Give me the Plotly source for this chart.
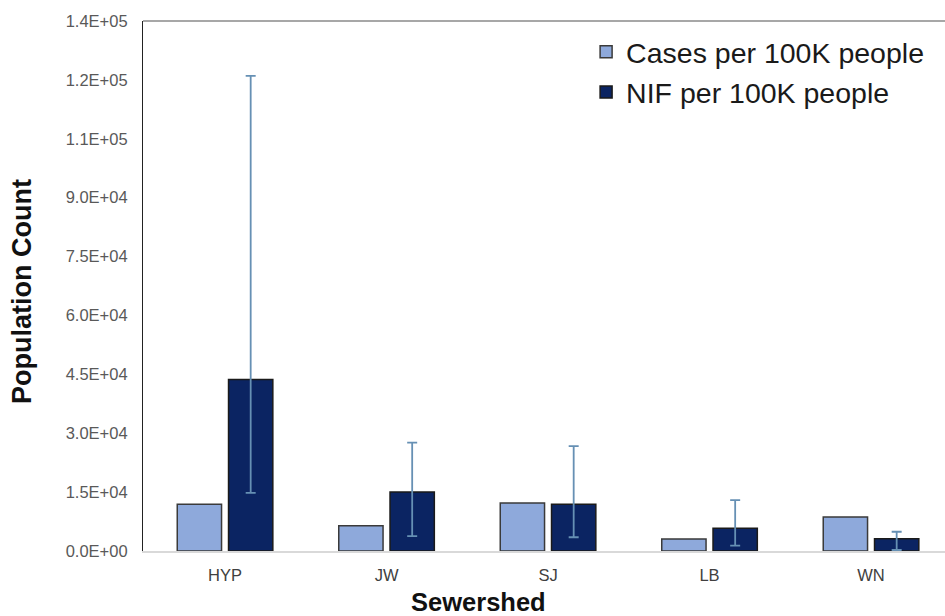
import plotly.graph_objects as go

categories = ["HYP", "JW", "SJ", "LB", "WN"]
cases_per_100k = [11900, 6400, 12200, 3050, 8650]
nif_per_100k = [43700, 15000, 11900, 5800, 3150]
nif_err_plus = [77300, 12600, 14800, 7150, 1750]
nif_err_minus = [28900, 11200, 8400, 4450, 2900]

tick_vals = [0, 15000, 30000, 45000, 60000, 75000, 90000, 105000, 120000, 135000]
tick_text = ["0.0E+00", "1.5E+04", "3.0E+04", "4.5E+04", "6.0E+04",
             "7.5E+04", "9.0E+04", "1.1E+05", "1.2E+05", "1.4E+05"]

FONT = "Liberation Sans, Arial, sans-serif"

fig = go.Figure()
fig.add_trace(go.Bar(
    name="Cases per 100K people", x=categories, y=cases_per_100k,
    marker=dict(color="#8EA9DB", line=dict(color="#3a3a3a", width=1.5)),
))
fig.add_trace(go.Bar(
    name="NIF per 100K people", x=categories, y=nif_per_100k,
    marker=dict(color="#0B2462", line=dict(color="#1a1a1a", width=1.5)),
    error_y=dict(type="data", symmetric=False, array=nif_err_plus,
                 arrayminus=nif_err_minus, color="#6690B4", thickness=1.8, width=5),
))

fig.update_layout(
    width=945, height=616,
    margin=dict(l=143, r=0, t=21, b=65),
    paper_bgcolor="white", plot_bgcolor="white",
    barmode="group", bargap=0.365, bargroupgap=0.136,
    font=dict(family=FONT, color="#595959"),
    showlegend=True,
    legend=dict(x=0.5525, y=0.989, xanchor="left", yanchor="top",
                font=dict(size=28.5, color="#1a1a1a", family=FONT),
                bgcolor="rgba(0,0,0,0)", tracegroupgap=0, itemwidth=30),
    xaxis=dict(range=[-0.508, 4.458], showgrid=False, zeroline=False,
               showline=True, linecolor="#D9D9D9", linewidth=1.5,
               ticks="", tickfont=dict(size=16.5, color="#404040"),
               ticklabelstandoff=8),
    yaxis=dict(range=[0, 135000], tickmode="array", tickvals=tick_vals,
               ticktext=tick_text, showgrid=False, zeroline=False,
               showline=True, linecolor="#222222", linewidth=1.2,
               ticks="", tickfont=dict(size=16.5, color="#595959"),
               ticklabelstandoff=11),
    shapes=[dict(type="line", xref="paper", yref="paper", x0=0, x1=1, y0=1, y1=1,
                 line=dict(color="#8a8a8a", width=1.5))],
    annotations=[
        dict(text="<b>Population Count</b>", xref="paper", yref="paper",
             x=(22 - 143) / 802, y=(551 - 291) / 530, textangle=-90,
             showarrow=False, xanchor="center", yanchor="middle",
             font=dict(size=27, color="#111111", family=FONT)),
        dict(text="<b>Sewershed</b>", xref="paper", yref="paper",
             x=(478 - 143) / 802, y=-(602 - 551) / 530,
             showarrow=False, xanchor="center", yanchor="middle",
             font=dict(size=25.5, color="#111111", family=FONT)),
    ],
)

fig.write_html("out.html", config={"displayModeBar": False},
               post_script="document.body.style.margin='0';document.body.style.padding='0';")
